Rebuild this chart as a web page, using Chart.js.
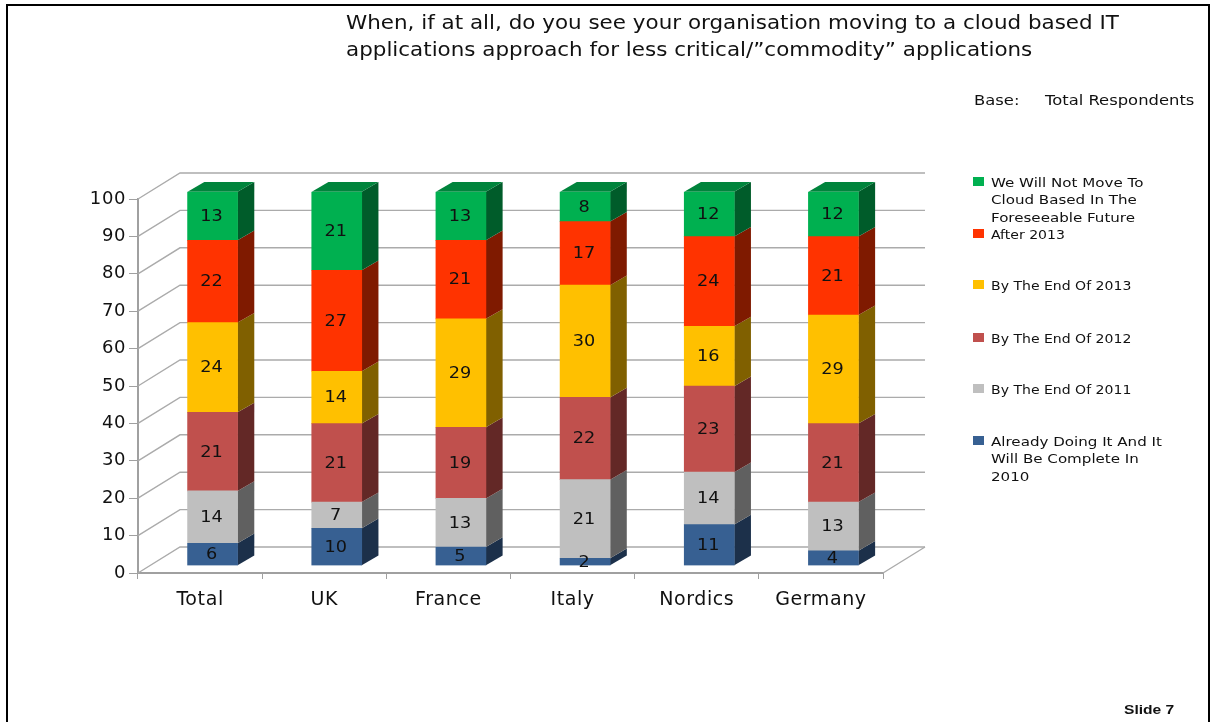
<!DOCTYPE html>
<html>
<head>
<meta charset="utf-8">
<title>Cloud IT applications</title>
<script src="https://cdn.jsdelivr.net/npm/chart.js@4"></script>
<style>
  html, body { margin: 0; padding: 0; background: #fff; }
  body { width: 1212px; height: 722px; position: relative; overflow: hidden; font-family: "DejaVu Sans", sans-serif; color: #111; }
  #frame { position: absolute; left: 6px; top: 4px; width: 1204px; height: 740px; border: 2px solid #000; box-sizing: border-box; }
  canvas { position: absolute; left: 0; top: 0; }
  #title { position: absolute; left: 346px; top: 9px; font-size: 19px; line-height: 27px; white-space: nowrap; transform: scaleX(1.129); transform-origin: left top; }
  #base { position: absolute; left: 974px; top: 92px; font-size: 14px; white-space: nowrap; transform: scaleX(1.17); transform-origin: left top; }
  #base span { position: absolute; left: 60.7px; top: 0; }
  #slide { position: absolute; left: 1124px; top: 702px; font: bold 13px "Liberation Sans", sans-serif; transform: scaleX(1.2); transform-origin: left top; }
  .key { position: absolute; left: 973px; width: 11px; height: 9px; }
  .keytext { position: absolute; left: 991px; width: 150px; font-size: 13px; line-height: 17.4px; transform-origin: left top; }
</style>
</head>
<body>
<div id="frame"></div>
<canvas id="chart" width="1212" height="722"></canvas>
<div id="title">When, if at all, do you see your organisation moving to a cloud based IT<br>applications approach for less critical/”commodity” applications</div>
<div id="base">Base:<span>Total Respondents</span></div>
<div id="legend"></div>
<div id="slide">Slide 7</div>
<script>
const categories = ['Total', 'UK', 'France', 'Italy', 'Nordics', 'Germany'];
const yTicks = [0, 10, 20, 30, 40, 50, 60, 70, 80, 90, 100];

const doingIt = [6, 10, 5, 2, 11, 4];
const endOf2011 = [14, 7, 13, 21, 14, 13];
const endOf2012 = [21, 21, 19, 22, 23, 21];
const endOf2013 = [24, 14, 29, 30, 16, 29];
const after2013 = [22, 27, 21, 17, 24, 21];
const notMove = [13, 21, 13, 8, 12, 12];

const seriesNames = [
  'Already Doing It And It Will Be Complete In 2010',
  'By The End Of 2011',
  'By The End Of 2012',
  'By The End Of 2013',
  'After 2013',
  'We Will Not Move To Cloud Based In The Foreseeable Future'
];
const seriesValues = [doingIt, endOf2011, endOf2012, endOf2013, after2013, notMove];
const faceColors = ['#376092', '#BFBFBF', '#C0504D', '#FFC000', '#FF3300', '#00B050'];
const sideColors = ['#1C304A', '#606060', '#632826', '#806000', '#7F1A00', '#005C2A'];
const topColor = '#00843C';

// the bars sit a little behind the front edge of the floor
const barShift = { x: 12.5, y: -7.3 };
const barDepth = { x: 16.7, y: -9.7 };
const wallDepth = { x: 42, y: -26 };
const gridColor = '#ababab';

const threeD = {
  id: 'threeD',
  beforeDraw(chart) {
    // reference text is wider than DejaVu, this also reaches the axis labels
    chart.ctx.letterSpacing = '0.6px';
  },
  beforeDatasetsDraw(chart) {
    const { ctx, scales: { x, y } } = chart;
    ctx.save();
    ctx.strokeStyle = gridColor;
    ctx.lineWidth = 1.4;
    yTicks.forEach(v => {
      const py = y.getPixelForValue(v);
      ctx.beginPath();
      ctx.moveTo(x.left, py);
      ctx.lineTo(x.left + wallDepth.x, py + wallDepth.y);
      ctx.lineTo(x.right + wallDepth.x, py + wallDepth.y);
      ctx.stroke();
    });
    const floor = y.getPixelForValue(0);
    ctx.beginPath();
    ctx.moveTo(x.right, floor);
    ctx.lineTo(x.right + wallDepth.x, floor + wallDepth.y);
    ctx.stroke();
    ctx.restore();

    ctx.save();
    ctx.translate(barShift.x, barShift.y);
    // sides and top go under the front faces
    chart.data.datasets.forEach((ds, i) => {
      chart.getDatasetMeta(i).data.forEach(bar => {
        const r = bar.x + bar.width / 2;
        ctx.fillStyle = sideColors[i];
        ctx.beginPath();
        ctx.moveTo(r, bar.base);
        ctx.lineTo(r + barDepth.x, bar.base + barDepth.y);
        ctx.lineTo(r + barDepth.x, bar.y + barDepth.y);
        ctx.lineTo(r, bar.y);
        ctx.closePath();
        ctx.fill();
        if (i === chart.data.datasets.length - 1) {
          const l = bar.x - bar.width / 2;
          ctx.fillStyle = topColor;
          ctx.beginPath();
          ctx.moveTo(l, bar.y);
          ctx.lineTo(l + barDepth.x, bar.y + barDepth.y);
          ctx.lineTo(r + barDepth.x, bar.y + barDepth.y);
          ctx.lineTo(r, bar.y);
          ctx.closePath();
          ctx.fill();
        }
      });
    });
  },
  afterDatasetsDraw(chart) {
    const { ctx } = chart;
    ctx.letterSpacing = '0px';
    ctx.font = '15px "DejaVu Sans"';
    ctx.fillStyle = '#111';
    ctx.textAlign = 'center';
    ctx.textBaseline = 'middle';
    chart.data.datasets.forEach((ds, i) => {
      chart.getDatasetMeta(i).data.forEach((bar, j) => {
        ctx.save();
        ctx.translate(bar.x - 1, (bar.y + bar.base) / 2 + 1);
        ctx.scale(1.18, 1);
        ctx.fillText(ds.data[j], 0, 0);
        ctx.restore();
      });
    });
    ctx.restore();
    ctx.letterSpacing = '0.6px';
  }
};

new Chart(document.getElementById('chart'), {
  type: 'bar',
  data: {
    labels: categories,
    datasets: seriesNames.map((name, i) => ({
      label: name,
      data: seriesValues[i],
      backgroundColor: faceColors[i],
      barThickness: 50,
      borderWidth: 0
    }))
  },
  options: {
    responsive: false,
    animation: false,
    layout: { padding: { left: 88, top: 199, right: 329, bottom: 109 } },
    plugins: { legend: { display: false }, title: { display: false }, tooltip: { enabled: false } },
    scales: {
      x: {
        stacked: true,
        grid: { display: true, drawOnChartArea: false, color: '#a0a0a0', tickLength: 6, offset: true },
        border: { color: '#a0a0a0', width: 2 },
        ticks: { color: '#111', font: { family: 'DejaVu Sans', size: 19 }, padding: 10, maxRotation: 0 },
        afterFit(s) { s.height = 40; }
      },
      y: {
        stacked: true,
        min: 0,
        max: 100,
        grid: { display: true, drawOnChartArea: false, color: '#a0a0a0', tickLength: 9 },
        border: { color: '#a0a0a0', width: 2 },
        ticks: { color: '#111', stepSize: 10, font: { family: 'DejaVu Sans', size: 18 }, padding: 3 },
        afterFit(s) { s.width = 50; }
      }
    }
  },
  plugins: [threeD]
});

// legend reads top to bottom, reverse of the stacking order
const legendTops = [436, 384, 333, 280, 229, 177];
const legendStretch = [1.16, 1.08, 1.08, 1.08, 1.08, 1.16];
const legend = document.getElementById('legend');
seriesNames.forEach((name, i) => {
  const key = document.createElement('div');
  key.className = 'key';
  key.style.top = legendTops[i] + 'px';
  key.style.background = faceColors[i];
  legend.appendChild(key);
  const text = document.createElement('div');
  text.className = 'keytext';
  text.style.top = (legendTops[i] - 3) + 'px';
  text.style.transform = 'scaleX(' + legendStretch[i] + ')';
  text.textContent = name;
  legend.appendChild(text);
});
</script>
</body>
</html>
